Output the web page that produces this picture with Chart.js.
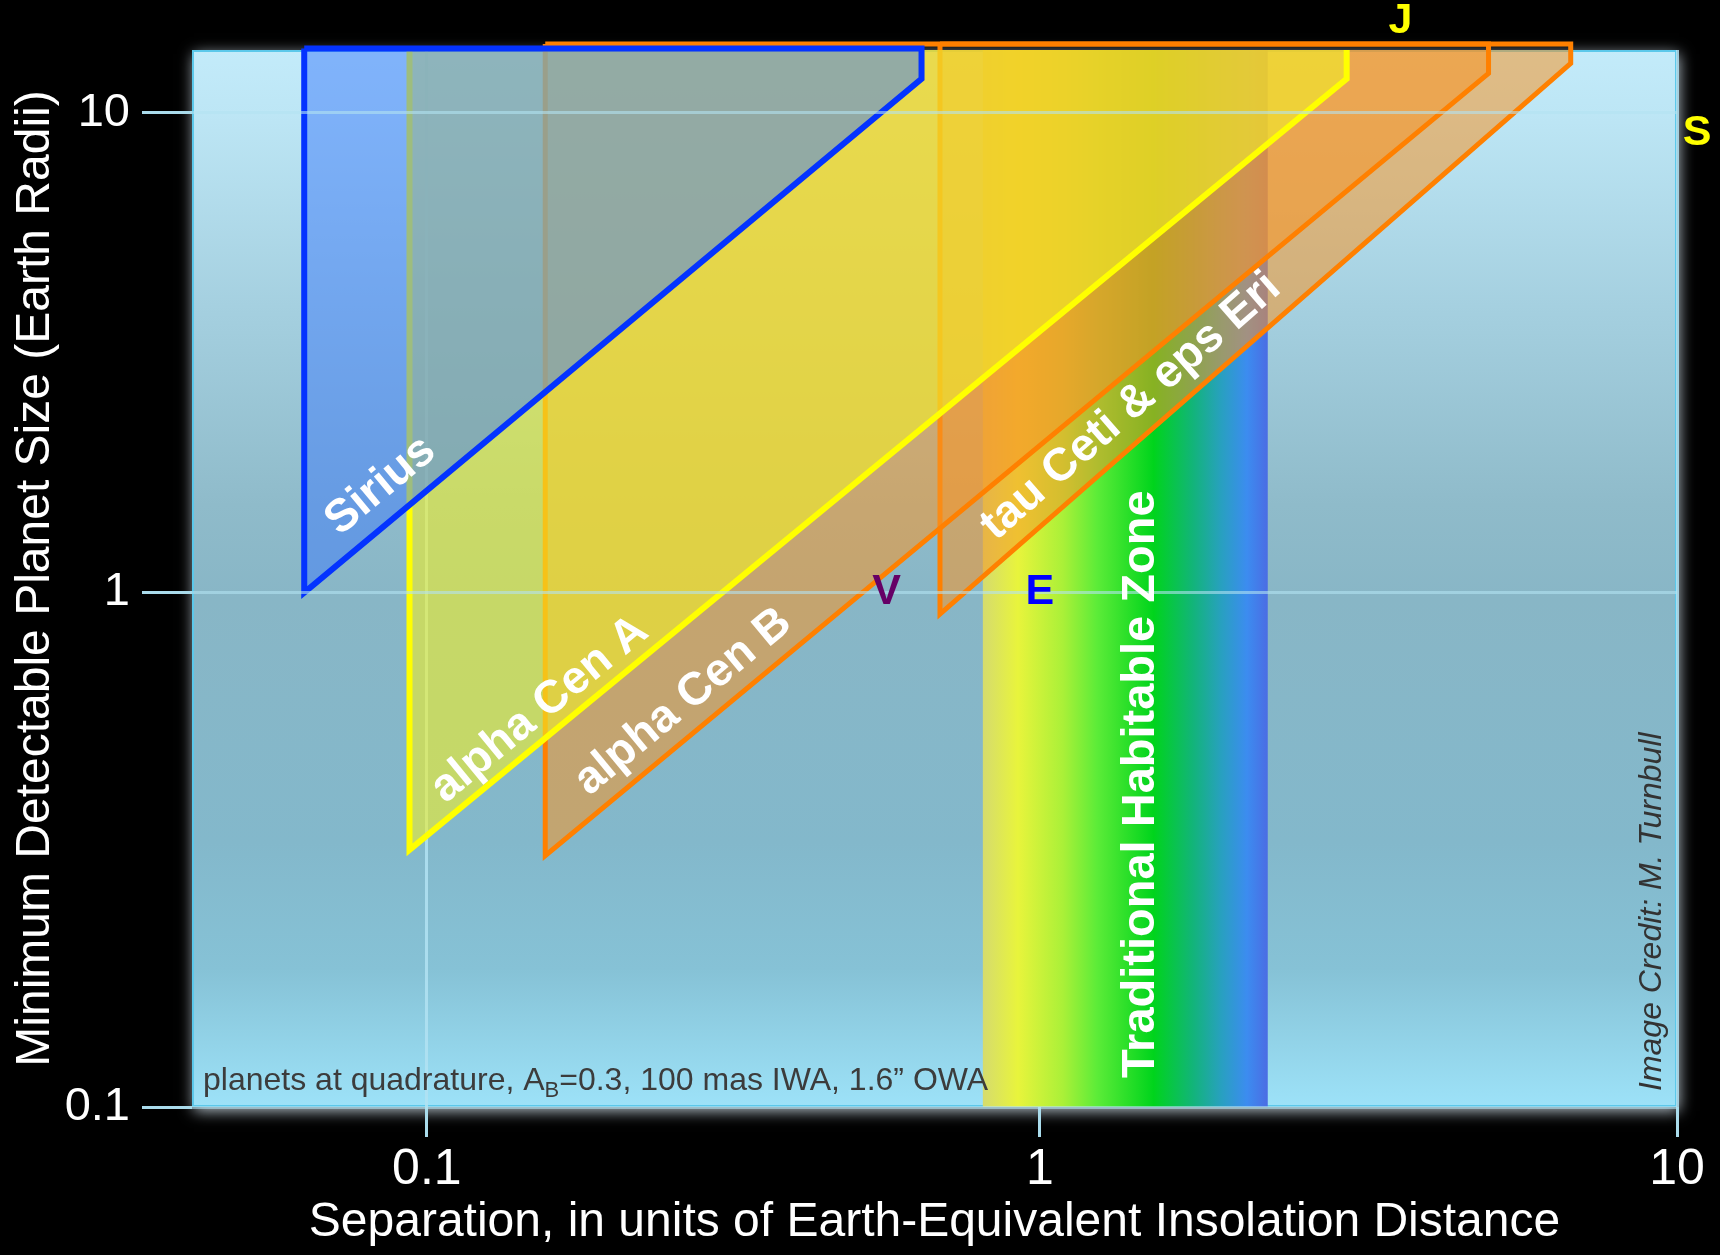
<!DOCTYPE html>
<html>
<head>
<meta charset="utf-8">
<script src="https://cdn.jsdelivr.net/npm/chart.js@4.4.1/dist/chart.umd.min.js"></script>
<style>
  html, body { margin: 0; padding: 0; background: #000; }
  #wrap { width: 1720px; height: 1255px; }
</style>
</head>
<body>
<div id="wrap"><canvas id="chart" width="1720" height="1255"></canvas></div>
<script>
// ---- axes ---------------------------------------------------------------
const xTicks = [0.1, 1, 10];          // separation (Earth-equivalent insolation distance)
const yTicks = [0.1, 1, 10];          // planet size (Earth radii)
const xRange = [0.0414, 10];
const yRange = [0.1, 13.5];

// ---- detectable regions, one per target -----------------------------------
// each region: IWA column from the top down to (iwaSep, iwaSize), then the
// sensitivity diagonal up to (diagSep, diagSize), then back up to the cap
const starNames = ['Sirius', 'alpha Cen A', 'alpha Cen B', 'tau Ceti & eps Eri'];
const iwaSep    = [0.0631, 0.0937, 0.156, 0.687];
const iwaSize   = [1.0, 0.316, 0.308, 0.908];
const diagSep   = [0.641, 3.03, 5.06, 6.81];
const diagSize  = [11.76, 11.76, 12.07, 12.66];
const capSize   = [13.6, 13.5, 13.9, 13.9];
const capClosed = [true, false, true, true];

// ---- traditional habitable zone ------------------------------------------
const hzInner = 0.81;
const hzOuter = 2.27;

// ---- label anchors --------------------------------------------------------
const starLabelSep  = [0.0841, 0.1528, 0.262, 1.389];
const starLabelSize = [1.668, 0.592, 0.613, 2.44];
const hzLabelSep  = 1.44;
const hzLabelSize = 0.424;
const planetLetters = ['V', 'E', 'J', 'S'];
const planetSep     = [0.562, 1.0, 3.68, 10.78];
const planetSize    = [1.0, 1.0, 15.5, 9.04];

// ---- styles ---------------------------------------------------------------
const starStroke = ['#0433ff', '#ffff00', '#ff8000', '#ff8000'];
const starFill   = ['rgba(62,124,252,0.5)', 'rgba(240,238,40,0.6)',
                    'rgba(245,150,40,0.55)', 'rgba(245,150,40,0.55)'];
const starWidth  = [6, 6, 5, 5];
const planetColors = ['#660066', '#0000ff', '#ffff00', '#ffff00'];

const SANS = "'Liberation Sans', Arial, Helvetica, sans-serif";

// Log axis whose decades may have slightly different lengths.
const decadeWeights = { x: { 0: 1.039 }, y: { '-1': 1.072 } };

function logPos(L, weights) {
  const w = k => (weights && weights[k] !== undefined) ? weights[k] : 1;
  const k0 = Math.floor(L);
  let s = 0;
  if (k0 >= 0) { for (let k = 0; k < k0; k++) s += w(k); }
  else { for (let k = k0; k < 0; k++) s -= w(k); }
  return s + (L - k0) * w(k0);
}

class WarpedLogScale extends Chart.LogarithmicScale {
  static id = 'warpedLog';
  _bounds() {
    const w = decadeWeights[this.id];
    return { w, lo: logPos(Math.log10(this.min), w), hi: logPos(Math.log10(this.max), w) };
  }
  getPixelForValue(value) {
    if (value === undefined || value === 0) value = this.min;
    if (value === null || isNaN(value)) return NaN;
    const { w, lo, hi } = this._bounds();
    return this.getPixelForDecimal((logPos(Math.log10(value), w) - lo) / (hi - lo));
  }
  getValueForPixel(pixel) {
    const { w, lo, hi } = this._bounds();
    const target = lo + this.getDecimalForPixel(pixel) * (hi - lo);
    let a = -10, b = 10;
    for (let i = 0; i < 60; i++) {
      const m = (a + b) / 2;
      if (logPos(m, w) < target) a = m; else b = m;
    }
    return Math.pow(10, (a + b) / 2);
  }
}
Chart.register(WarpedLogScale);

// ---- datasets -------------------------------------------------------------
const regionSets = starNames.map((name, i) => {
  const pts = [
    { x: iwaSep[i], y: capSize[i] },
    { x: iwaSep[i], y: iwaSize[i] },
    { x: diagSep[i], y: diagSize[i] },
    { x: diagSep[i], y: capSize[i] }
  ];
  if (capClosed[i]) pts.push({ x: iwaSep[i], y: capSize[i] });
  return {
    label: name,
    data: pts,
    borderColor: starStroke[i],
    backgroundColor: starFill[i],
    borderWidth: starWidth[i],
    borderJoinStyle: 'miter',
    fill: 'shape',
    clip: false
  };
});

function hzGradient(chart) {
  const xs = chart.scales.x;
  if (!xs || !chart.chartArea) return 'rgba(0,0,0,0)';
  const x0 = xs.getPixelForValue(hzInner), x1 = xs.getPixelForValue(hzOuter);
  const g = chart.ctx.createLinearGradient(x0, 0, x1, 0);
  g.addColorStop(0.00, '#d6dc6c');
  g.addColorStop(0.12, '#e8f43c');
  g.addColorStop(0.28, '#aaf038');
  g.addColorStop(0.40, '#5cec38');
  g.addColorStop(0.60, '#00d41c');
  g.addColorStop(0.74, '#12b47a');
  g.addColorStop(0.84, '#28a0c0');
  g.addColorStop(0.93, '#3c8cf0');
  g.addColorStop(1.00, '#4a6ee4');
  return g;
}

const hzSet = {
  label: 'Traditional Habitable Zone',
  data: [
    { x: hzInner, y: yRange[1] },
    { x: hzInner, y: yRange[0] },
    { x: hzOuter, y: yRange[0] },
    { x: hzOuter, y: yRange[1] }
  ],
  backgroundColor: ctx => hzGradient(ctx.chart),
  borderColor: ctx => hzGradient(ctx.chart),
  borderWidth: 2,
  fill: 'shape'
};

// ---- plot backdrop ----------------------------------------------------------
const backdrop = {
  id: 'backdrop',
  beforeDraw(chart) {
    const { ctx, chartArea: a } = chart;
    ctx.save();
    ctx.fillStyle = '#000';
    ctx.fillRect(0, 0, chart.width, chart.height);
    const g = ctx.createLinearGradient(0, a.top, 0, a.bottom);
    g.addColorStop(0.00, '#c3ebfa');
    g.addColorStop(0.06, '#bde6f5');
    g.addColorStop(0.25, '#a4cfdf');
    g.addColorStop(0.43, '#8fbbca');
    g.addColorStop(0.52, '#88b6c6');
    g.addColorStop(0.75, '#83b8cb');
    g.addColorStop(0.87, '#86c2d6');
    g.addColorStop(1.00, '#9de2f8');
    ctx.shadowColor = 'rgba(200,214,224,0.9)';
    ctx.shadowBlur = 14;
    ctx.shadowOffsetX = 2;
    ctx.shadowOffsetY = 4;
    ctx.fillStyle = g;
    ctx.fillRect(a.left, a.top, a.width, a.height);
    ctx.shadowColor = 'rgba(0,0,0,0)';
    ctx.strokeStyle = '#5cc8ea';
    ctx.lineWidth = 2;
    ctx.strokeRect(a.left + 1, a.top + 1, a.width - 2, a.height - 2);
    ctx.restore();
  }
};

// ---- text annotations -------------------------------------------------------
const annotations = {
  id: 'annotations',
  afterDraw(chart) {
    const { ctx, chartArea: a } = chart;
    const xs = chart.scales.x, ys = chart.scales.y;
    ctx.save();
    ctx.textAlign = 'center';
    ctx.textBaseline = 'middle';

    // region names, laid along each sensitivity diagonal
    ctx.fillStyle = '#ffffff';
    ctx.font = 'bold 46px ' + SANS;
    starNames.forEach((name, i) => {
      const x0 = xs.getPixelForValue(iwaSep[i]), y0 = ys.getPixelForValue(iwaSize[i]);
      const x1 = xs.getPixelForValue(diagSep[i]), y1 = ys.getPixelForValue(diagSize[i]);
      ctx.save();
      ctx.translate(xs.getPixelForValue(starLabelSep[i]), ys.getPixelForValue(starLabelSize[i]));
      ctx.rotate(Math.atan2(y1 - y0, x1 - x0));
      ctx.fillText(name, 0, 0);
      ctx.restore();
    });

    // habitable zone caption
    ctx.save();
    ctx.font = 'bold 47px ' + SANS;
    ctx.translate(xs.getPixelForValue(hzLabelSep), ys.getPixelForValue(hzLabelSize));
    ctx.rotate(-Math.PI / 2);
    ctx.fillText('Traditional Habitable Zone', 0, 0);
    ctx.restore();

    // solar-system planets
    ctx.font = 'bold 43px ' + SANS;
    planetLetters.forEach((p, i) => {
      ctx.fillStyle = planetColors[i];
      ctx.fillText(p, xs.getPixelForValue(planetSep[i]), ys.getPixelForValue(planetSize[i]));
    });

    // assumptions note
    ctx.textAlign = 'left';
    ctx.textBaseline = 'alphabetic';
    ctx.fillStyle = '#3c3c3c';
    const nx = a.left + 11, ny = a.bottom - 17;
    ctx.font = '32px ' + SANS;
    const part1 = 'planets at quadrature, A';
    ctx.fillText(part1, nx, ny);
    let cx = nx + ctx.measureText(part1).width;
    ctx.font = '22px ' + SANS;
    ctx.fillText('B', cx, ny + 7);
    cx += ctx.measureText('B').width;
    ctx.font = '32px ' + SANS;
    ctx.fillText('=0.3, 100 mas IWA, 1.6\u201D OWA', cx, ny);

    // credit line
    ctx.save();
    ctx.fillStyle = '#333333';
    ctx.font = 'italic 32px ' + SANS;
    ctx.translate(a.right - 16, a.bottom - 16);
    ctx.rotate(-Math.PI / 2);
    ctx.fillText('Image Credit: M. Turnbull', 0, 0);
    ctx.restore();

    ctx.restore();
  }
};

// ---- chart ------------------------------------------------------------------
new Chart(document.getElementById('chart'), {
  type: 'line',
  data: { datasets: [...regionSets, hzSet] },
  options: {
    responsive: false,
    animation: false,
    devicePixelRatio: 1,
    events: [],
    layout: { padding: { top: 50, right: 43, left: 0, bottom: 0 } },
    elements: { point: { radius: 0 }, line: { tension: 0 } },
    plugins: { legend: { display: false }, tooltip: { enabled: false } },
    scales: {
      x: {
        type: 'warpedLog',
        min: xRange[0],
        max: xRange[1],
        afterBuildTicks: s => { s.ticks = xTicks.map(v => ({ value: v })); },
        afterFit: s => { s.height = 148; },
        border: { display: false },
        grid: { color: 'rgba(178,226,242,0.85)', lineWidth: 3, tickLength: 30, tickColor: '#aadcec' },
        ticks: {
          color: '#ffffff', font: { family: SANS, size: 50 }, padding: 3,
          maxRotation: 0, autoSkip: false, callback: v => String(v)
        },
        title: {
          display: true,
          text: 'Separation, in units of Earth-Equivalent Insolation Distance',
          color: '#ffffff', font: { family: SANS, size: 48 },
          padding: { top: 0, bottom: 3 }
        }
      },
      y: {
        type: 'warpedLog',
        min: yRange[0],
        max: yRange[1],
        afterBuildTicks: s => { s.ticks = yTicks.map(v => ({ value: v })); },
        afterFit: s => { s.width = 192; },
        border: { display: false },
        grid: { z: 1, color: 'rgba(178,226,242,0.6)', lineWidth: 3, tickLength: 50, tickColor: '#aadcec' },
        ticks: {
          color: '#ffffff', font: { family: SANS, size: 47 }, padding: 12,
          autoSkip: false, callback: v => String(v)
        },
        title: {
          display: true,
          text: 'Minimum Detectable Planet Size (Earth Radii)',
          color: '#ffffff', font: { family: SANS, size: 48 },
          padding: { top: 7, bottom: 0 }
        }
      }
    }
  },
  plugins: [backdrop, annotations]
});
</script>
</body>
</html>
